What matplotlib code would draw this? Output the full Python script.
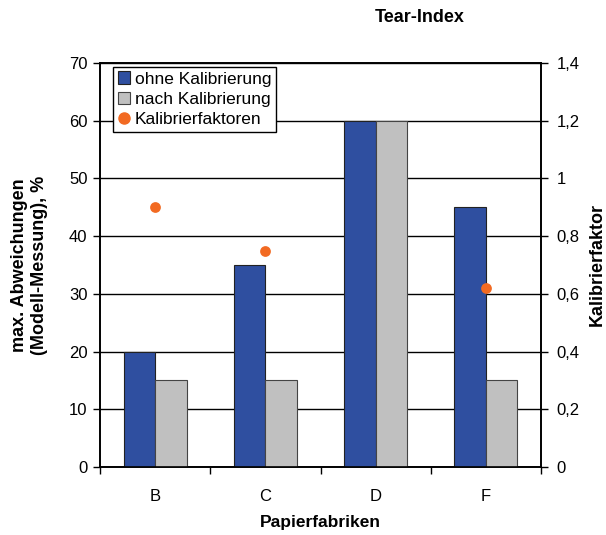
import matplotlib
matplotlib.use("Agg")
import matplotlib.pyplot as plt
from matplotlib.lines import Line2D
from matplotlib.patches import Patch
import numpy as np

plt.rcParams['font.family'] = ['Liberation Sans', 'DejaVu Sans']

categories = ["B", "C", "D", "F"]
ohne_kalibrierung = [20, 35, 60, 45]
nach_kalibrierung = [15, 15, 60, 15]
kalibrierfaktoren = [0.9, 0.75, None, 0.62]
left_ticks = [0, 10, 20, 30, 40, 50, 60, 70]
right_ticks = [0, 0.2, 0.4, 0.6, 0.8, 1.0, 1.2, 1.4]
right_tick_labels = ["0", "0,2", "0,4", "0,6", "0,8", "1", "1,2", "1,4"]

blue = "#2F4FA0"
grey = "#C0C0C0"
orange = "#F26A22"

fig = plt.figure(figsize=(6.06, 5.35), dpi=100)
ax = fig.add_axes([100 / 606, 68 / 535, 441 / 606, 404 / 535])
ax2 = ax.twinx()

x = np.arange(len(categories))
w = 0.285
ax.bar(x - w / 2, ohne_kalibrierung, w, color=blue, edgecolor="#222222", linewidth=0.8, zorder=3)
ax.bar(x + w / 2, nach_kalibrierung, w, color=grey, edgecolor="#444444", linewidth=0.8, zorder=3)

ax.set_xlim(-0.5, len(categories) - 0.5)
ax.set_ylim(0, 70)
ax.set_yticks(left_ticks)
ax.yaxis.grid(True, color="black", linewidth=1.0, zorder=0)
ax.set_axisbelow(True)

ax.set_xticks(x)
ax.set_xticklabels(categories)
ax.set_xticks(np.arange(-0.5, len(categories)), minor=True)
ax.tick_params(axis="x", which="major", length=0, pad=16, labelsize=12)
ax.tick_params(axis="x", which="minor", length=5, direction="out", width=1)
ax.tick_params(axis="y", length=5, direction="out", width=1, labelsize=12, pad=4)

for s in ax.spines.values():
    s.set_linewidth(1.2)
    s.set_color("black")

fx = [i for i, v in enumerate(kalibrierfaktoren) if v is not None]
fy = [v for v in kalibrierfaktoren if v is not None]
ax2.scatter(fx, fy, s=60, color=orange, zorder=5, linewidths=0)
ax2.set_ylim(0, 1.4)
ax2.set_yticks(right_ticks)
ax2.set_yticklabels(right_tick_labels)
ax2.tick_params(axis="y", length=5, direction="out", width=1, labelsize=12, pad=6)
for s in ax2.spines.values():
    s.set_linewidth(1.2)
    s.set_color("black")

ax.set_xlabel("Papierfabriken", fontsize=12.5, fontweight="bold", labelpad=8)
ax.set_ylabel("max. Abweichungen\n(Modell-Messung), %", fontsize=13, fontweight="bold")
ax.yaxis.set_label_coords(-0.118, 0.5)
ax2.set_ylabel("Kalibrierfaktor", fontsize=13, fontweight="bold", rotation=90, va="center")
ax2.yaxis.set_label_coords((597 - 100) / 441, 0.5)
fig.text(420 / 606, 1 - 18 / 535, "Tear-Index", fontsize=13, fontweight="bold", ha="center", va="center")

handles = [
    Patch(facecolor=blue, edgecolor="#222222", linewidth=0.8),
    Patch(facecolor=grey, edgecolor="#444444", linewidth=0.8),
    Line2D([], [], marker="o", linestyle="none", color=orange, markersize=8),
]
leg = ax2.legend(handles, ["ohne Kalibrierung", "nach Kalibrierung", "Kalibrierfaktoren"],
                 loc="upper left", bbox_to_anchor=(0.03, 0.99), fontsize=12.5,
                 frameon=True, fancybox=False, borderpad=0.25, labelspacing=0.3,
                 handlelength=0.7, handleheight=0.7, handletextpad=0.3, borderaxespad=0)
leg.get_frame().set_edgecolor("black")
leg.get_frame().set_linewidth(1.0)
leg.get_frame().set_alpha(1)

fig.savefig("out.png", dpi=100)
